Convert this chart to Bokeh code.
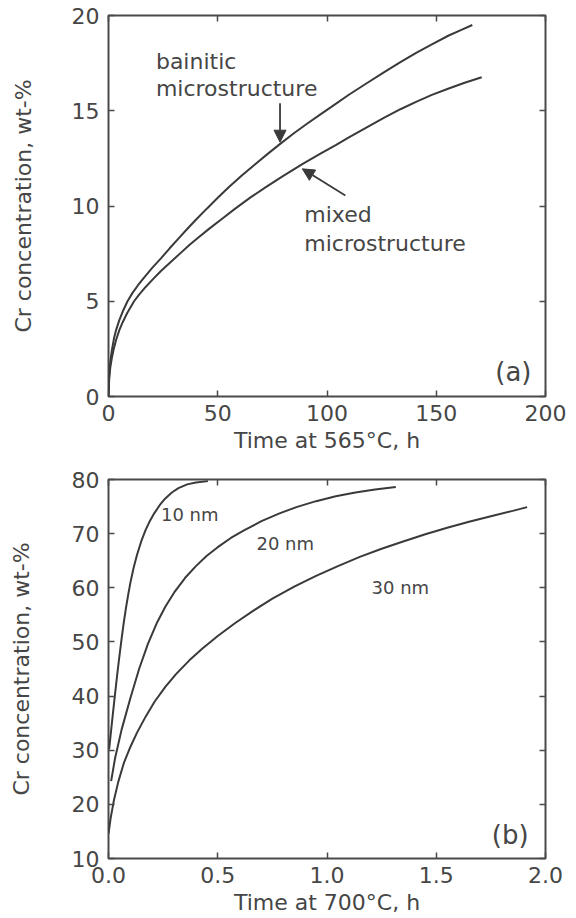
from bokeh.plotting import figure
from bokeh.models import (Range1d, FixedTicker, LinearAxis, Arrow, NormalHead,
                          Label, PrintfTickFormatter)
from bokeh.layouts import column
from bokeh.embed import file_html
from bokeh.resources import INLINE

# ---- (a) Cr enrichment of cementite at 565 °C ----
bainitic_t = [0, 0.3, 0.8, 1.5, 2.5, 3.5, 5, 6.5, 8.7, 11, 13.5, 16, 20, 24, 28, 32, 36,
              40, 45, 50, 55, 61, 67, 73, 79, 85, 91, 97, 102, 110, 118, 126, 133.6,
              141, 148, 155.7, 161, 166.5]
bainitic_c = [0, 1.12, 1.79, 2.4, 3.04, 3.5, 4.02, 4.46, 5.0, 5.44, 5.84, 6.2, 6.75, 7.25,
              7.78, 8.29, 8.79, 9.28, 9.86, 10.43, 10.98, 11.6, 12.18, 12.75, 13.3, 13.83,
              14.33, 14.81, 15.2, 15.84, 16.43, 17.01, 17.55, 18.05, 18.49, 18.95, 19.22, 19.5]

mixed_t = [0, 0.3, 0.8, 1.5, 2.4, 3.5, 5, 6.5, 8.5, 11.7, 14, 17, 20.7, 24, 28, 32.7, 37,
           41, 46, 52.3, 58, 65, 72, 80, 88.7, 97, 104, 110, 118, 126, 133.6, 141, 148,
           155.7, 163, 170.8]
mixed_c = [0, 0.9, 1.5, 2.0, 2.5, 2.98, 3.5, 3.9, 4.37, 5.0, 5.35, 5.75, 6.2, 6.59, 7.01,
           7.5, 7.95, 8.33, 8.8, 9.36, 9.86, 10.45, 10.99, 11.58, 12.2, 12.75, 13.2, 13.6,
           14.12, 14.62, 15.08, 15.48, 15.83, 16.17, 16.47, 16.76]

a_xticks = [0, 50, 100, 150, 200]
a_yticks = [0, 5, 10, 15, 20]

# ---- (b) Cr enrichment at 700 °C for three particle sizes ----
nm10_t = [0.003, 0.01, 0.02, 0.03, 0.04, 0.05, 0.06, 0.07, 0.08, 0.09, 0.1, 0.115, 0.13,
          0.15, 0.17, 0.19, 0.21, 0.235, 0.26, 0.29, 0.32, 0.36, 0.4, 0.455]
nm10_c = [30.2, 32.9, 36.7, 40.4, 44.0, 47.4, 50.6, 53.6, 56.3, 58.7, 60.9, 63.7, 66.0,
          68.6, 70.7, 72.4, 73.8, 75.3, 76.5, 77.6, 78.4, 79.1, 79.45, 79.7]

nm20_t = [0.012, 0.03, 0.06, 0.1, 0.14, 0.18, 0.22, 0.26, 0.3, 0.35, 0.4, 0.45, 0.5, 0.56,
          0.62, 0.7, 0.78, 0.86, 0.95, 1.04, 1.13, 1.22, 1.315]
nm20_c = [24.3, 28.5, 33.8, 39.6, 45.0, 49.6, 53.4, 56.5, 59.1, 61.8, 64.0, 65.9, 67.5,
          69.2, 70.6, 72.3, 73.7, 74.9, 76.0, 76.9, 77.6, 78.15, 78.6]

nm30_t = [0.0, 0.01, 0.025, 0.045, 0.07, 0.1, 0.13, 0.17, 0.21, 0.26, 0.31, 0.37, 0.43,
          0.5, 0.58, 0.66, 0.75, 0.85, 0.95, 1.05, 1.15, 1.25, 1.345, 1.45, 1.55, 1.65,
          1.75, 1.85, 1.916]
nm30_c = [14.6, 17.5, 20.8, 24.2, 27.6, 30.6, 33.2, 36.2, 38.9, 41.7, 44.1, 46.6, 48.8,
          51.1, 53.5, 55.7, 58.0, 60.2, 62.2, 64.0, 65.7, 67.2, 68.5, 69.9, 71.1, 72.2,
          73.2, 74.2, 74.9]

b_xticks = [0.0, 0.5, 1.0, 1.5, 2.0]
b_yticks = [10, 20, 30, 40, 50, 60, 70, 80]

FONT = "DejaVu Sans"
TXT = "#464646"
LINE = "#3a3a3a"
FRAME = "#4a4a4a"


def style_axis(ax, ticks, show_labels=True):
    ax.ticker = FixedTicker(ticks=ticks)
    ax.axis_line_color = None
    ax.major_tick_in = 6
    ax.major_tick_out = 0
    ax.major_tick_line_color = FRAME
    ax.major_tick_line_width = 1.5
    ax.minor_tick_line_color = None
    ax.major_label_text_font = FONT
    ax.axis_label_text_font = FONT
    ax.axis_label_text_color = TXT
    ax.axis_label_text_font_style = "normal"
    ax.axis_label_text_font_size = "22px"
    ax.major_label_text_font_size = "22px"
    if show_labels:
        ax.major_label_text_color = TXT
    else:
        # tick marks only: the mirrored axes carry no labels
        ax.major_label_text_color = None
        ax.major_label_text_font_size = "1px"
        ax.major_label_standoff = 0


def make_panel(height, x_end, y_start, y_end, xticks, yticks, xlabel, ylabel,
               borders, xfmt=None, ylab_standoff=33):
    left, right, top, bottom = borders
    p = figure(width=576, height=height, output_backend="svg", toolbar_location=None,
               x_range=Range1d(0, x_end), y_range=Range1d(y_start, y_end),
               min_border_left=left, min_border_right=right,
               min_border_top=top, min_border_bottom=bottom)
    p.grid.visible = False
    p.outline_line_color = FRAME
    p.outline_line_width = 2
    p.background_fill_color = "white"
    p.border_fill_color = "white"

    xa = p.xaxis[0]
    ya = p.yaxis[0]
    style_axis(xa, xticks)
    style_axis(ya, yticks)
    xa.axis_label = xlabel
    ya.axis_label = ylabel
    xa.major_label_standoff = 8
    ya.major_label_standoff = 9
    xa.axis_label_standoff = 4
    ya.axis_label_standoff = ylab_standoff
    if xfmt is not None:
        xa.formatter = xfmt

    top_ax = LinearAxis()
    right_ax = LinearAxis()
    style_axis(top_ax, xticks, show_labels=False)
    style_axis(right_ax, yticks, show_labels=False)
    p.add_layout(top_ax, "above")
    p.add_layout(right_ax, "right")
    return p


def add_text(p, x, y, text, size="22px"):
    p.add_layout(Label(x=x, y=y, text=text, text_font=FONT, text_font_size=size,
                       text_color=TXT, text_align="left", text_baseline="middle"))


def add_arrow(p, x0, y0, x1, y1):
    p.add_layout(Arrow(x_start=x0, y_start=y0, x_end=x1, y_end=y1,
                       line_color=LINE, line_width=1.8,
                       end=NormalHead(size=12, fill_color=LINE, line_color=LINE)))


# Panel (a)
pa = make_panel(460, 200, 0, 20, a_xticks, a_yticks,
                "Time at 565°C, h", "Cr concentration, wt-%",
                borders=(108, 29, 15, 64), ylab_standoff=33)
pa.line(bainitic_t, bainitic_c, line_color=LINE, line_width=2)
pa.line(mixed_t, mixed_c, line_color=LINE, line_width=2)
add_text(pa, 21.7, 17.6, "bainitic")
add_text(pa, 21.7, 16.15, "microstructure")
add_text(pa, 89.6, 9.55, "mixed")
add_text(pa, 89.6, 8.05, "microstructure")
add_text(pa, 177, 1.3, "(a)", size="26px")
add_arrow(pa, 78.5, 15.4, 78.5, 13.35)
add_arrow(pa, 108.4, 10.55, 88.7, 11.95)

# Panel (b)
pb = make_panel(458, 2.0, 10, 80, b_xticks, b_yticks,
                "Time at 700°C, h", "Cr concentration, wt-%",
                borders=(107, 31, 19, 60), xfmt=PrintfTickFormatter(format="%.1f"),
                ylab_standoff=35)
pb.line(nm10_t, nm10_c, line_color=LINE, line_width=2)
pb.line(nm20_t, nm20_c, line_color=LINE, line_width=2)
pb.line(nm30_t, nm30_c, line_color=LINE, line_width=2)
add_text(pb, 0.24, 73.6, "10 nm", size="18px")
add_text(pb, 0.677, 68.2, "20 nm", size="18px")
add_text(pb, 1.204, 60.1, "30 nm", size="18px")
add_text(pb, 1.754, 14.3, "(b)", size="26px")

layout = column(pa, pb, spacing=0)
open("out.html", "w").write(file_html(layout, INLINE))
